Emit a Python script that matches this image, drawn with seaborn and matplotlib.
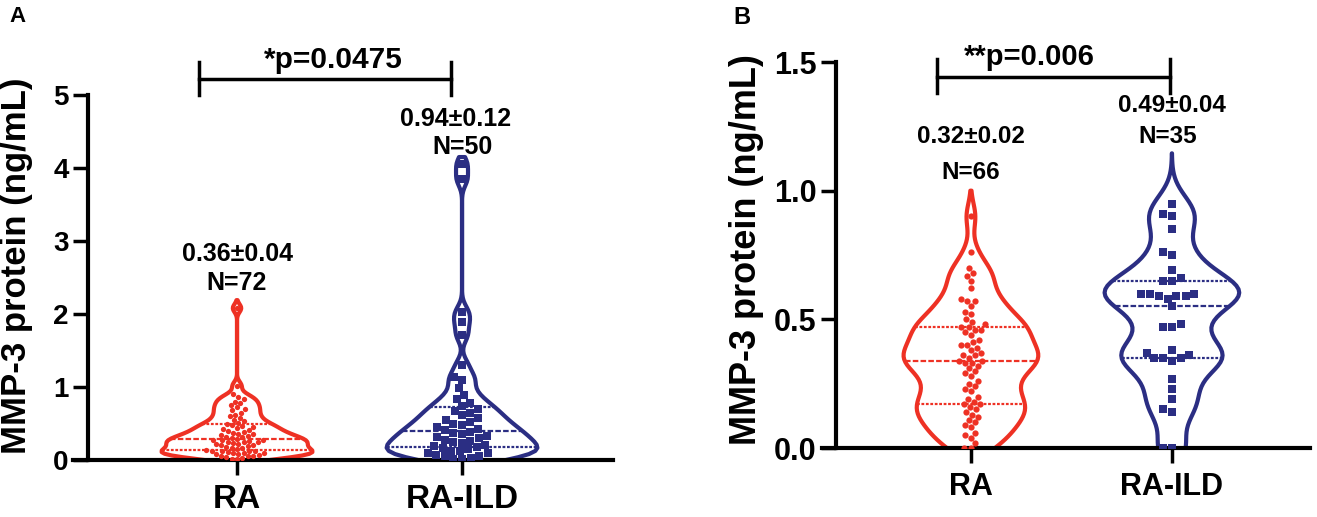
import numpy as np
import pandas as pd
import matplotlib
matplotlib.use("Agg")
import matplotlib.pyplot as plt
import seaborn as sns
from matplotlib import font_manager as fm
from matplotlib.font_manager import FontProperties

# ---------------- data ----------------
groups = ["RA", "RA-ILD"]

ra_a = [0.01, 0.02, 0.03, 0.04, 0.05, 0.05, 0.06, 0.07, 0.08, 0.08,
        0.09, 0.10, 0.10, 0.11, 0.12, 0.12, 0.13, 0.13,
        0.14, 0.15, 0.16, 0.17, 0.18, 0.19, 0.20, 0.21, 0.22, 0.22,
        0.23, 0.24, 0.25, 0.25, 0.26, 0.27, 0.28, 0.28,
        0.29, 0.30, 0.31, 0.32, 0.33, 0.34, 0.35, 0.36, 0.37, 0.38,
        0.40, 0.41, 0.42, 0.44, 0.45, 0.46, 0.48, 0.49,
        0.51, 0.53, 0.55, 0.58, 0.60, 0.62, 0.65, 0.68, 0.70, 0.72,
        0.75, 0.78, 0.80, 0.83, 0.86, 0.90, 1.02, 2.08]

ra_ild_a = [0.01, 0.02, 0.03, 0.05, 0.06, 0.07, 0.09, 0.10, 0.12, 0.13,
            0.15, 0.16, 0.18, 0.19, 0.21, 0.23, 0.24, 0.26, 0.28, 0.30,
            0.31, 0.33, 0.35, 0.37, 0.39, 0.41, 0.43, 0.45, 0.48, 0.50,
            0.52, 0.55, 0.58, 0.61, 0.64, 0.67, 0.70, 0.74, 0.78, 0.83,
            0.89, 0.98, 1.10, 1.14, 1.30, 1.71, 1.89, 2.03, 3.85, 4.05]

ra_b = [0.00, 0.00, 0.02, 0.04, 0.05, 0.06, 0.08, 0.09, 0.10, 0.11,
        0.12, 0.13, 0.14, 0.15, 0.16, 0.17, 0.17, 0.18, 0.19, 0.20,
        0.22, 0.23, 0.24, 0.25, 0.26, 0.28, 0.29, 0.30, 0.31, 0.32,
        0.33, 0.33, 0.34, 0.34, 0.35, 0.36, 0.36, 0.37, 0.38, 0.39,
        0.40, 0.40, 0.41, 0.42, 0.44, 0.45, 0.46, 0.46, 0.47, 0.47,
        0.48, 0.49, 0.50, 0.52, 0.53, 0.55, 0.57, 0.57, 0.58, 0.62,
        0.65, 0.67, 0.68, 0.70, 0.76, 0.90]

ra_ild_b = [0.00, 0.00, 0.14, 0.15, 0.19, 0.23, 0.27,
            0.34, 0.35, 0.35, 0.36, 0.35, 0.37, 0.38,
            0.47, 0.48, 0.47, 0.55,
            0.59, 0.60, 0.58, 0.59, 0.60, 0.59, 0.60,
            0.65, 0.66, 0.65, 0.69, 0.75, 0.76,
            0.85, 0.90, 0.91, 0.95]

yticks_a = [0, 1, 2, 3, 4, 5]
yticks_b = [0.0, 0.5, 1.0, 1.5]
ytick_labels_b = ["0.0", "0.5", "1.0", "1.5"]
annot_a = [("0.36±0.04", "N=72"), ("0.94±0.12", "N=50")]
annot_b = [("0.32±0.02", "N=66"), ("0.49±0.04", "N=35")]
ptext_a = "*p=0.0475"
ptext_b = "**p=0.006"
ylabel = "MMP-3 protein (ng/mL)"

RED = "#EE3124"
NAVY = "#2B2E83"

# ---------------- style ----------------
plt.rcParams["font.family"] = ["Liberation Sans", "DejaVu Sans"]
plt.rcParams["font.weight"] = "bold"
plt.rcParams["axes.unicode_minus"] = False

names = {f.name for f in fm.fontManager.ttflist}
NARROW = "Liberation Sans Narrow" in names


def bfont(size_narrow, size_reg):
    if NARROW:
        return FontProperties(family=["Liberation Sans Narrow", "Liberation Sans"],
                              weight="bold", size=size_narrow)
    return FontProperties(family=["Liberation Sans", "DejaVu Sans"],
                          weight="bold", size=size_reg)


W, H = 1317, 517
fig = plt.figure(figsize=(W / 100, H / 100), dpi=100)


def rect(left, right, bottom, top):
    return [left / W, 1 - bottom / H, (right - left) / W, (bottom - top) / H]


def panel(ax, a, b, bws, cuts, sizes, width):
    df = pd.DataFrame({"group": np.repeat(groups, [len(a), len(b)]),
                       "value": np.concatenate([a, b])})
    for g, col, bw, cut, marker, ms in zip(groups, [RED, NAVY], bws, cuts,
                                            ["o", "s"], sizes):
        sub = df[df["group"] == g]
        factor = bw / np.std(sub["value"], ddof=1)
        sns.violinplot(data=sub, x="group", y="value", order=groups, color=col,
                       fill=False, linecolor=col, linewidth=3, width=width,
                       density_norm="width", cut=cut, bw_method=factor,
                       inner="quart", inner_kws=dict(linewidth=1.6, color=col), ax=ax)
        sns.swarmplot(data=sub, x="group", y="value", order=groups, color=col,
                      marker=marker, size=ms, linewidth=0, ax=ax, zorder=3)
    ax.set_xlabel("")
    ax.set_ylabel("")
    for s in ["top", "right"]:
        ax.spines[s].set_visible(False)
    for s in ["left", "bottom"]:
        ax.spines[s].set_linewidth(3)
        ax.spines[s].set_color("black")
    ax.set_facecolor("none")


def bracket(ax, x0, x1, y, ylo, yhi, txt, tx, ty, size):
    ax.plot([x0, x1], [y, y], color="black", lw=2.5, clip_on=False)
    ax.plot([x0, x0], [ylo, yhi], color="black", lw=2.5, clip_on=False)
    ax.plot([x1, x1], [ylo, yhi], color="black", lw=2.5, clip_on=False)
    ax.text(tx, ty, txt, ha="center", va="center", fontsize=size,
            fontweight="bold", clip_on=False)


# ---------------- panel A ----------------
axA = fig.add_axes(rect(73, 613, 460, 95))
panel(axA, ra_a, ra_ild_a, bws=[0.055, 0.10], cuts=[2, 1], sizes=[3.8, 6.0],
      width=0.67)
axA.set_xlim(-0.729, 1.671)
axA.set_ylim(0, 5)
axA.spines["left"].set_position(("data", -0.662))
axA.spines["left"].set_bounds(0, 5)
axA.set_yticks(yticks_a)
axA.tick_params(axis="y", direction="out", length=11, width=2.5, labelsize=20,
                pad=3, left=True, colors="black")
axA.tick_params(axis="x", direction="out", length=11, width=2.5, labelsize=24,
                pad=6, bottom=True, colors="black")
bracket(axA, -0.17, 0.95, 5.22, 5.0, 5.45, ptext_a, 0.43, 5.48, 21.5)
axA.text(0.0, 2.82, annot_a[0][0], ha="center", va="center", fontsize=18, fontweight="bold")
axA.text(0.0, 2.42, annot_a[0][1], ha="center", va="center", fontsize=18, fontweight="bold")
axA.text(0.97, 4.67, annot_a[1][0], ha="center", va="center", fontsize=18, fontweight="bold", clip_on=False)
axA.text(1.0, 4.29, annot_a[1][1], ha="center", va="center", fontsize=18, fontweight="bold", clip_on=False)

# ---------------- panel B ----------------
axB = fig.add_axes(rect(822, 1310, 448, 62))
panel(axB, ra_b, ra_ild_b, bws=[0.05, 0.065], cuts=[2, 3], sizes=[4.5, 6.3],
      width=0.67)
axB.set_xlim(-0.741, 1.687)
axB.set_ylim(0, 1.5)
axB.spines["left"].set_position(("data", -0.672))
axB.spines["left"].set_bounds(0, 1.5)
axB.set_yticks(yticks_b)
axB.set_yticklabels(ytick_labels_b)
axB.tick_params(axis="y", direction="out", length=11, width=2.5, labelsize=22,
                pad=3, left=True, colors="black")
axB.tick_params(axis="x", direction="out", length=11, width=2.5,
                pad=6, bottom=True, colors="black")
xt_fp = bfont(26, 22)
for lab in axB.get_xticklabels():
    lab.set_fontproperties(xt_fp)
bracket(axB, -0.17, 0.99, 1.44, 1.38, 1.51, ptext_b, 0.29, 1.52, 21)
an_fp = bfont(22, 17.5)
for (t1, t2), x1, x2, y1, y2 in zip(annot_b, [0.0, 1.0], [0.0, 0.98],
                                     [1.21, 1.33], [1.07, 1.21]):
    axB.text(x1, y1, t1, ha="center", va="center", fontproperties=an_fp, clip_on=False)
    axB.text(x2, y2, t2, ha="center", va="center", fontproperties=an_fp, clip_on=False)

# ---------------- labels ----------------
fig.text(17 / W, 1 - 266 / H, ylabel, rotation=90, ha="center", va="center",
         fontsize=25, fontweight="bold")
fig.text(747 / W, 1 - 250 / H, ylabel, rotation=90, ha="center", va="center",
         fontsize=26, fontweight="bold")
fig.text(18 / W, 1 - 17 / H, "A", ha="center", va="center", fontsize=16, fontweight="bold")
fig.text(742 / W, 1 - 17 / H, "B", ha="center", va="center", fontsize=17, fontweight="bold")

fig.savefig("out.png", dpi=100, facecolor="white")
